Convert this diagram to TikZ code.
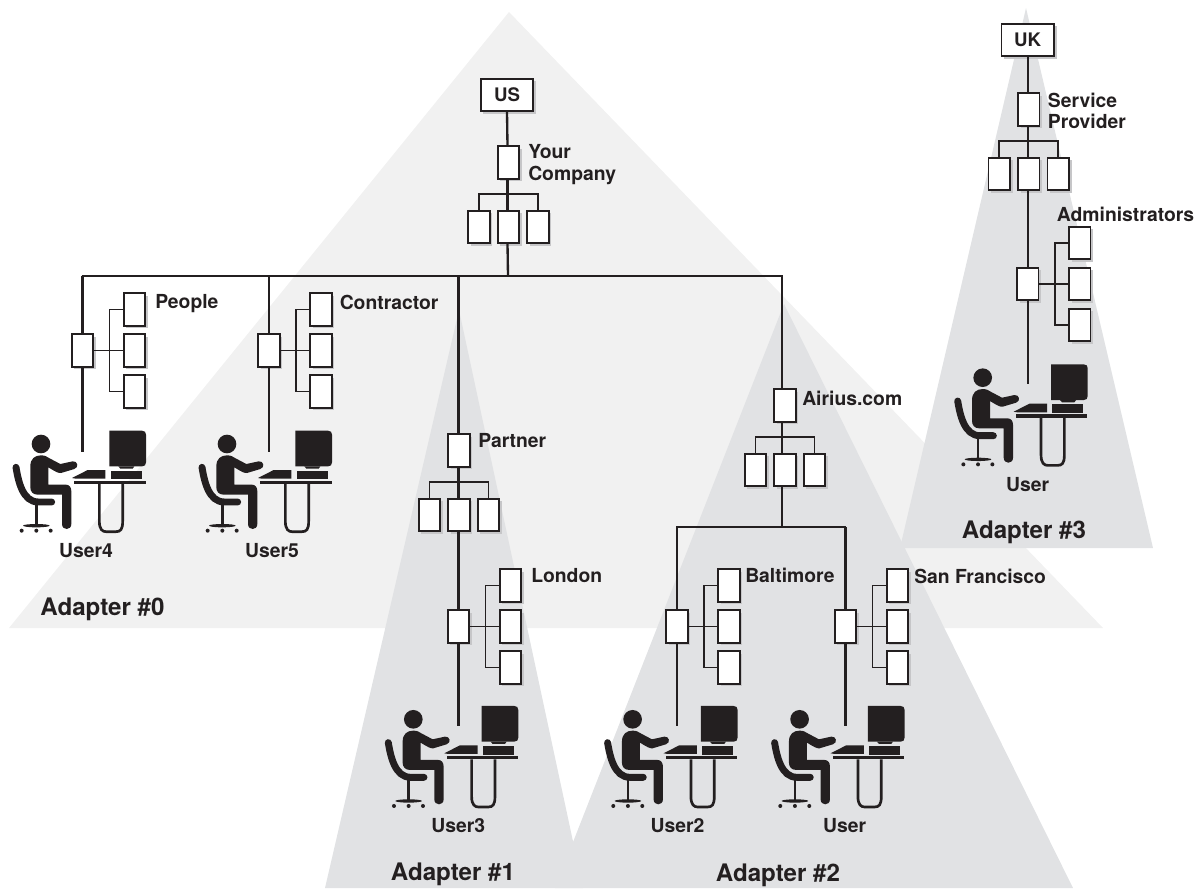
\documentclass[tikz,border=0pt]{standalone}
\usepackage{fontspec}
\setmainfont{TeX Gyre Heros}
\usetikzlibrary{shadows}
\definecolor{ink}{HTML}{231F20}
\definecolor{lightzone}{HTML}{F1F1F1}
\definecolor{darkzone}{HTML}{E1E2E4}
\definecolor{shadowgrey}{HTML}{C6C6C8}
\tikzset{
  box/.style={draw=ink,fill=white,line width=1.35pt,inner sep=0pt,minimum width=16.1pt,minimum height=24.4pt,
    drop shadow={shadow xshift=2pt,shadow yshift=-2pt,fill=shadowgrey,opacity=1}},
  country/.style={box,minimum width=39.4pt,font=\bfseries\fontsize{14pt}{16pt}\selectfont,text=ink},
  trunk/.style={draw=ink,line width=1.75pt},
  branch/.style={draw=ink,line width=1.4pt},
  lbl/.style={inner sep=0pt,text=ink,font=\bfseries\fontsize{14.5pt}{15.9pt}\selectfont,anchor=base west,align=left},
  two/.style={lbl,anchor=west},
  uname/.style={inner sep=0pt,text=ink,font=\bfseries\fontsize{14.5pt}{16pt}\selectfont,anchor=base},
  zone/.style={inner sep=0pt,text=ink,font=\bfseries\fontsize{18.1pt}{20pt}\selectfont,anchor=base},
}
% head-centred workstation; the inner coordinates are in thirds of a pixel
\newcommand{\workstation}[4]{%
  \begin{scope}[shift={(#2,#3)}]
  \begin{scope}[x=0.25pt,y=-0.25pt,shift={(-340,-88)}]
    \fill[ink] (340,88) circle [radius=28];
    \fill[ink] (308,155) .. controls (308,132) and (322,122) .. (340,122) .. controls (352,122) and (358,126) .. (364,130) -- (398,148) -- (435,140) .. controls (450,138) and (455,158) .. (440,163) -- (400,175) .. controls (392,176) and (385,172) .. (362,158) -- (362,210) -- (415,210) .. controls (425,210) and (431,218) .. (431,230) -- (431,328) .. controls (431,348) and (403,348) .. (403,328) -- (403,240) -- (330,240) .. controls (315,240) and (308,230) .. (308,218) -- cycle;
    \draw[ink,line width=5.2pt,line cap=round] (265,158) .. controls (272,200) and (285,262) .. (332,262) -- (372,262);
    \draw[ink,line width=2pt] (326,265) -- (326,335);
    \fill[ink] (326,333) ellipse [x radius=40,y radius=5];
    \fill[ink] (282,348) circle [radius=6] (326,348) circle [radius=6] (369,348) circle [radius=6];
    \fill[ink] (545,48) -- (643,48) .. controls (651,48) and (655,52) .. (655,60) -- (655,143) .. controls (655,151) and (651,155) .. (643,155) -- (545,155) -- cycle;
    \fill[ink] (572,155) -- (620,155) -- (615,162) -- (578,162) -- cycle;
    \fill[ink] (549,168) rectangle (642,194);
    \fill[ink] (433,190) -- (480,166) -- (533,166) -- (533,192) -- (445,192) -- cycle;
    \fill[ink] (440,198) rectangle (654,208);
    \draw[ink,line width=2pt] (515,208) -- (515,320) .. controls (515,345) and (525,351) .. (535,351) -- (565,351) .. controls (578,351) and (585,345) .. (585,320) -- (585,208);
    \node[uname] (#1) at (475,428) {#4};
  \end{scope}
  \end{scope}}
% parent box on a vertical line, three children to its right
\newcommand{\sidefan}[3]{%
  \node[box] (#1p) at (#2,#3) {};
  \node[box] (#1a) at ([shift={(52,-41)}]#1p.center) {};
  \node[box] (#1b) at ([shift={(52,0)}]#1p.center) {};
  \node[box] (#1c) at ([shift={(52,41)}]#1p.center) {};
  \coordinate (#1j) at ([shift={(27,0)}]#1p.center);
  \draw[branch] (#1p.east) -- (#1b.west);
  \draw[branch] (#1a.west) -| (#1j) |- (#1c.west);}
% parent box with three children underneath; #4 is the x of the vertical line
\newcommand{\downfan}[4]{%
  \node[box] (#1p) at (#2,#3) {};
  \node[box] (#1a) at ([shift={(-29.5,64.5)}]#1p.center) {};
  \node[box] (#1b) at ([shift={(0,64.5)}]#1p.center) {};
  \node[box] (#1c) at ([shift={(29.5,64.5)}]#1p.center) {};
  \coordinate (#1j) at ([shift={(0,31.5)}]#1p.center);
  \coordinate (#1top) at (#4,#3-16.5);
  \coordinate (#1bot) at (#4,#3+81);
  \draw[trunk] (#4,#3+16.5) -- (#4,#3+48);
  \draw[branch] (#1a.north) |- (#1j) -| (#1c.north);}
\begin{document}
\begin{tikzpicture}[x=0.75pt,y=-0.75pt]
\useasboundingbox (0,0) rectangle (1198,888);
% zones
\fill[lightzone] (509,12) -- (1103,628) -- (9,628) -- cycle;
\fill[darkzone] (459,310) -- (583,888) -- (325,888) -- cycle;
\fill[darkzone] (784,304) -- (1073,888) -- (555,888) -- cycle;
\fill[darkzone] (1026,8) -- (1153,548) -- (900,548) -- cycle;
% US tree
\node[country] (us) at (507,95) {US};
\downfan{co}{508.5}{162.5}{507.5}
\draw[trunk] (us.south) -- (cotop);
\node[two] (colabel) at (528,164.5) {Your\\Company};
\coordinate (busL) at (81.6,276);
\coordinate (busR) at (783.1,276);
\coordinate (busM) at (508,276);
\draw[trunk] (busL) -- (busR);
\draw[trunk] (cobot) -- (busM);
% People
\sidefan{pe}{82.5}{350.5}
\coordinate (peend) at (82.5,452);
\draw[trunk] (82.5,276) -- (pep.north);
\draw[trunk] (pep.south) -- (peend);
\node[lbl] (pelabel) at (155,308) {People};
\workstation{u4}{41}{444}{User4}
% Contractor
\sidefan{ct}{269}{350.5}
\coordinate (ctend) at (269,452);
\draw[trunk] (269,276) -- (ctp.north);
\draw[trunk] (ctp.south) -- (ctend);
\node[lbl] (ctlabel) at (339.5,309) {Contractor};
\workstation{u5}{227}{444}{User5}
% Partner
\downfan{pa}{459}{450.5}{458.5}
\draw[trunk] (458.5,276) -- (patop);
\node[lbl] (palabel) at (478,447) {Partner};
\sidefan{lo}{458.5}{626.5}
\coordinate (loend) at (458.5,726);
\draw[trunk] (pabot) -- (lop.north);
\draw[trunk] (lop.south) -- (loend);
\node[lbl] (lolabel) at (531,582) {London};
\workstation{u3}{413.3}{719.3}{User3}
% Airius
\downfan{ai}{785}{405.5}{782.3}
\draw[trunk] (782.3,276) -- (aitop);
\node[lbl] (ailabel) at (802,405.7) {Airius.com};
\coordinate (subL) at (677,527);
\coordinate (subR) at (845.5,527);
\coordinate (subM) at (782.3,527);
\draw[trunk] (aibot) -- (subM);
\sidefan{ba}{677}{626.5}
\sidefan{sf}{845.5}{626.5}
\draw[trunk] ([xshift=-0.65pt]subL) -- ([xshift=0.65pt]subR);
\draw[trunk] (subL) -- (bap.north);
\draw[trunk] (subR) -- (sfp.north);
\draw[trunk] (bap.south) -- (677,726);
\draw[trunk] (sfp.south) -- (845.5,726);
\node[lbl] (balabel) at (745,582) {Baltimore};
\node[lbl] (sflabel) at (914,583) {San Francisco};
\workstation{u2}{632.6}{719.3}{User2}
\workstation{u1}{799.6}{719.3}{User}
% UK tree
\node[country] (uk) at (1027.7,40) {UK};
\downfan{sp}{1028.7}{109.5}{1027.7}
\draw[trunk] (uk.south) -- (sptop);
\node[two] (splabel) at (1047.7,111) {Service\\Provider};
\sidefan{ad}{1027.7}{284}
\draw[trunk] (spbot) -- (adp.north);
\draw[trunk] (adp.south) -- (1027.7,384);
\node[lbl] (adlabel) at (1056.7,221.7) {Administrators};
\workstation{u0}{982.7}{377.7}{User}
% zone names
\node[zone] (z0) at (102.5,615.7) {Adapter \#0};
\node[zone] (z1) at (453,880.7) {Adapter \#1};
\node[zone] (z2) at (778,881) {Adapter \#2};
\node[zone] (z3) at (1024,538) {Adapter \#3};
\end{tikzpicture}
\end{document}
